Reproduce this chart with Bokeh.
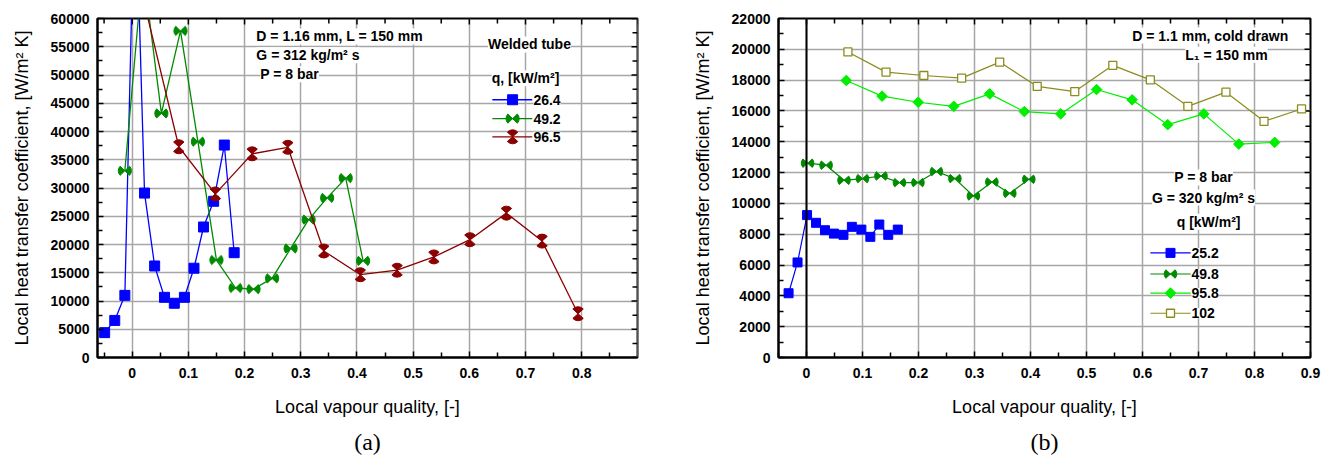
import numpy as np
from bokeh.plotting import figure
from bokeh.models import (FixedTicker, NumeralTickFormatter, Range1d, Label, Span, Title)
from bokeh.layouts import row
from bokeh.embed import file_html
from bokeh.resources import INLINE

# ---------------- data: (a) welded tube, D = 1.16 mm ----------------
a_q264_x = [-0.049, -0.031, -0.013, 0.005, 0.022, 0.040, 0.0575, 0.075, 0.093, 0.110, 0.127, 0.145, 0.164, 0.1815]
a_q264_h = [4400, 6560, 11000, 86600, 29100, 16200, 10650, 9600, 10650, 15800, 23100, 27650, 37600, 18550]
a_q492_x = [-0.013, 0.019, 0.052, 0.086, 0.117, 0.150, 0.184, 0.216, 0.249, 0.282, 0.314, 0.347, 0.380, 0.411]
a_q492_h = [33050, 69000, 43200, 57800, 38200, 17250, 12300, 12100, 14000, 19300, 24400, 28250, 31750, 17100]
a_q965_x = [0.0185, 0.083, 0.148, 0.2135, 0.277, 0.341, 0.406, 0.4715, 0.537, 0.601, 0.666, 0.7295, 0.7935]
a_q965_h = [64000, 37300, 28950, 36050, 37200, 18850, 14650, 15450, 17800, 20850, 25550, 20600, 7750]

# ---------------- data: (b) cold drawn, D = 1.1 mm ----------------
b_q252_x = [-0.032, -0.016, 0.001, 0.017, 0.033, 0.049, 0.066, 0.081, 0.098, 0.114, 0.130, 0.146, 0.163]
b_q252_h = [4170, 6170, 9240, 8740, 8260, 8040, 7960, 8480, 8300, 7830, 8630, 7960, 8300]
b_q498_x = [0.002, 0.035, 0.067, 0.100, 0.133, 0.166, 0.199, 0.232, 0.265, 0.298, 0.331, 0.363, 0.397]
b_q498_h = [12610, 12480, 11500, 11610, 11780, 11350, 11350, 12070, 11610, 10480, 11390, 10650, 11565]
b_q958_x = [0.071, 0.135, 0.1995, 0.263, 0.327, 0.389, 0.454, 0.518, 0.5815, 0.645, 0.7095, 0.772, 0.836]
b_q958_h = [17980, 16960, 16565, 16300, 17110, 15960, 15810, 17390, 16720, 15110, 15810, 13850, 13960]
b_q102_x = [0.074, 0.142, 0.2095, 0.277, 0.345, 0.412, 0.479, 0.547, 0.614, 0.681, 0.749, 0.817, 0.884]
b_q102_h = [19830, 18520, 18300, 18130, 19170, 17590, 17260, 18960, 18020, 16300, 17220, 15330, 16130]

# ---------------- ticks / labels ----------------
x_ticks = [0, 0.1, 0.2, 0.3, 0.4, 0.5, 0.6, 0.7, 0.8, 0.9]
x_minor = [-0.05, 0.05, 0.15, 0.25, 0.35, 0.45, 0.55, 0.65, 0.75, 0.85]
a_y_ticks = list(range(0, 60001, 5000))
a_y_minor = list(range(2500, 60000, 5000))
b_y_ticks = list(range(0, 22001, 2000))
b_y_minor = list(range(1000, 22000, 2000))
x_label = "Local vapour quality, [-]"
y_label = "Local heat transfer coefficient, [W/m\u00b2 K]"

a_series = ["26.4", "49.2", "96.5"]
b_series = ["25.2", "49.8", "95.8", "102"]

BLUE = "#0000ff"
GREEN = "#008a00"
DRED = "#8b0000"
LGREEN = "#00ee00"
OLIVE = "#8c8c1e"

SANS = "Liberation Sans"
SERIF = "Liberation Serif"
GRID = "#a6a6a6"
H = 463


def make_fig(width, xr, yr, yt, ymin, mleft, mright, mtop, tag):
    p = figure(width=width, height=H, x_range=Range1d(*xr), y_range=Range1d(*yr),
               output_backend="svg", toolbar_location=None,
               min_border_left=mleft, min_border_right=mright,
               min_border_top=mtop, min_border_bottom=H - 357)
    p.background_fill_color = "white"
    p.border_fill_color = "white"
    p.outline_line_color = "black"
    p.outline_line_width = 2

    xa = p.xaxis[0]
    xa.ticker = FixedTicker(ticks=x_ticks, minor_ticks=x_minor)
    xa.formatter = NumeralTickFormatter(format="0.[0]")
    xa.axis_label = x_label
    ya = p.yaxis[0]
    ya.ticker = FixedTicker(ticks=yt, minor_ticks=ymin)
    ya.axis_label = y_label
    for ax in (xa, ya):
        ax.axis_line_color = "black"
        ax.axis_line_width = 2
        ax.major_tick_in = 6
        ax.major_tick_out = 0
        ax.minor_tick_in = 5
        ax.minor_tick_out = 0
        ax.major_tick_line_width = 1.5
        ax.minor_tick_line_width = 1.5
        ax.major_label_text_font = SANS
        ax.major_label_text_font_style = "bold"
        ax.major_label_text_font_size = "14px"
        ax.major_label_text_color = "black"
        ax.axis_label_text_font = SANS
        ax.axis_label_text_font_style = "normal"
        ax.axis_label_text_font_size = "18px"
        ax.axis_label_text_color = "black"
    xa.major_label_standoff = 10
    xa.axis_label_standoff = 16
    ya.major_label_standoff = 8
    ya.axis_label_standoff = 16

    # inward ticks on the right and top edges of the frame
    xmax, ymax = xr[1], yr[1]
    for vals, ln in ((yt, 6), (ymin, 5)):
        p.ray(x=[xmax] * len(vals), y=vals, length=ln, length_units="screen",
              angle=np.pi, line_color="black", line_width=1.5)
    for vals, ln in ((x_ticks, 6), (x_minor, 5)):
        p.ray(x=vals, y=[ymax] * len(vals), length=ln, length_units="screen",
              angle=-np.pi / 2, line_color="black", line_width=1.5)

    p.xgrid.grid_line_color = GRID
    p.ygrid.grid_line_color = GRID
    p.xgrid.grid_line_width = 1.5
    p.ygrid.grid_line_width = 1.5

    p.add_layout(Title(text=tag, align="center", text_font=SERIF, text_font_size="24px",
                       text_font_style="normal", text_color="black", standoff=15), "below")
    return p


def bowtie(p, xs, ys, color, r, horizontal, half=40):
    if horizontal:
        spans = [(-half, half), (180 - half, 180 + half)]
    else:
        spans = [(90 - half, 90 + half), (270 - half, 270 + half)]
    for a0, a1 in spans:
        p.wedge(x=xs, y=ys, radius=r, radius_units="screen",
                start_angle=np.radians(a0), end_angle=np.radians(a1),
                fill_color=color, line_color=color, line_width=1)


def text(p, x, y, s, align="left", size="14px"):
    p.add_layout(Label(x=x, y=y, text=s, text_font=SANS, text_font_size=size,
                       text_font_style="bold", text_color="black", text_align=align,
                       text_baseline="middle", background_fill_color="white"))


# ======================= (a) =======================
pa = make_fig(668, (-0.0617, 0.8993), (0, 60000), a_y_ticks, a_y_minor, 97, 31, 18, "(a)")

pa.line(a_q264_x, a_q264_h, line_color=BLUE, line_width=1.3)
pa.scatter(a_q264_x, a_q264_h, marker="square", size=10, fill_color=BLUE, line_color=BLUE)
pa.line(a_q492_x, a_q492_h, line_color=GREEN, line_width=1.3)
bowtie(pa, a_q492_x, a_q492_h, GREEN, 6.6, True, 44)
pa.line(a_q965_x, a_q965_h, line_color=DRED, line_width=1.3)
bowtie(pa, a_q965_x, a_q965_h, DRED, 7.0, False, 48)

text(pa, 0.221, 56830, "D = 1.16 mm, L = 150 mm")
text(pa, 0.221, 53490, "G = 312 kg/m\u00b2 s")
text(pa, 0.228, 50150, "P = 8 bar")
text(pa, 0.707, 55420, "Welded tube", "center")
text(pa, 0.700, 49440, "q, [kW/m\u00b2]", "center")

# legend (key positions are layout constants)
LA_X0, LA_X1, LA_XM, LA_XT = 0.641, 0.712, 0.677, 0.714
LA_ROWS = [45620, 42280, 39060]
pa.line([LA_X0, LA_X1], [LA_ROWS[0]] * 2, line_color=BLUE, line_width=1.3)
pa.scatter([LA_XM], [LA_ROWS[0]], marker="square", size=10, fill_color=BLUE, line_color=BLUE)
pa.line([LA_X0, LA_X1], [LA_ROWS[1]] * 2, line_color=GREEN, line_width=1.3)
bowtie(pa, [LA_XM], [LA_ROWS[1]], GREEN, 6.6, True, 44)
pa.line([LA_X0, LA_X1], [LA_ROWS[2]] * 2, line_color=DRED, line_width=1.3)
bowtie(pa, [LA_XM], [LA_ROWS[2]], DRED, 7.0, False, 48)
for yy, s in zip(LA_ROWS, a_series):
    text(pa, LA_XT, yy, s)

# ======================= (b) =======================
pb = make_fig(663, (-0.05, 0.9), (0, 22000), b_y_ticks, b_y_minor, 110, 21, 18, "(b)")
pb.add_layout(Span(location=0, dimension="height", line_color="black", line_width=2))

pb.line(b_q252_x, b_q252_h, line_color=BLUE, line_width=1.2)
pb.scatter(b_q252_x, b_q252_h, marker="square", size=9, fill_color=BLUE, line_color=BLUE)
pb.line(b_q498_x, b_q498_h, line_color=GREEN, line_width=1.2)
bowtie(pb, b_q498_x, b_q498_h, GREEN, 6.3, True, 42)
pb.line(b_q958_x, b_q958_h, line_color=LGREEN, line_width=1.2)
pb.scatter(b_q958_x, b_q958_h, marker="square", angle=np.pi / 4, size=7.5,
           fill_color=LGREEN, line_color=LGREEN)
pb.line(b_q102_x, b_q102_h, line_color=OLIVE, line_width=1.2)
pb.scatter(b_q102_x, b_q102_h, marker="square", size=8, fill_color="white",
           line_color=OLIVE, line_width=1.3)

text(pb, 0.721, 20890, "D = 1.1 mm, cold drawn", "center")
text(pb, 0.750, 19650, "L\u2081 = 150 mm", "center")
text(pb, 0.709, 11685, "P = 8 bar", "center")
text(pb, 0.709, 10380, "G = 320 kg/m\u00b2 s", "center")
text(pb, 0.718, 8813, "q [kW/m\u00b2]", "center")

LB_X0, LB_X1, LB_XM, LB_XT = 0.614, 0.686, 0.650, 0.6875
LB_ROWS = [6789, 5418, 4178, 2872]
pb.line([LB_X0, LB_X1], [LB_ROWS[0]] * 2, line_color=BLUE, line_width=1.2)
pb.scatter([LB_XM], [LB_ROWS[0]], marker="square", size=9, fill_color=BLUE, line_color=BLUE)
pb.line([LB_X0, LB_X1], [LB_ROWS[1]] * 2, line_color=GREEN, line_width=1.2)
bowtie(pb, [LB_XM], [LB_ROWS[1]], GREEN, 6.3, True, 42)
pb.line([LB_X0, LB_X1], [LB_ROWS[2]] * 2, line_color=LGREEN, line_width=1.2)
pb.scatter([LB_XM], [LB_ROWS[2]], marker="square", angle=np.pi / 4, size=7.5,
           fill_color=LGREEN, line_color=LGREEN)
pb.line([LB_X0, LB_X1], [LB_ROWS[3]] * 2, line_color=OLIVE, line_width=1.2)
pb.scatter([LB_XM], [LB_ROWS[3]], marker="square", size=8, fill_color="white",
           line_color=OLIVE, line_width=1.3)
for yy, s in zip(LB_ROWS, b_series):
    text(pb, LB_XT, yy, s)

layout = row(pa, pb)
open("out.html", "w").write(file_html(layout, INLINE))
